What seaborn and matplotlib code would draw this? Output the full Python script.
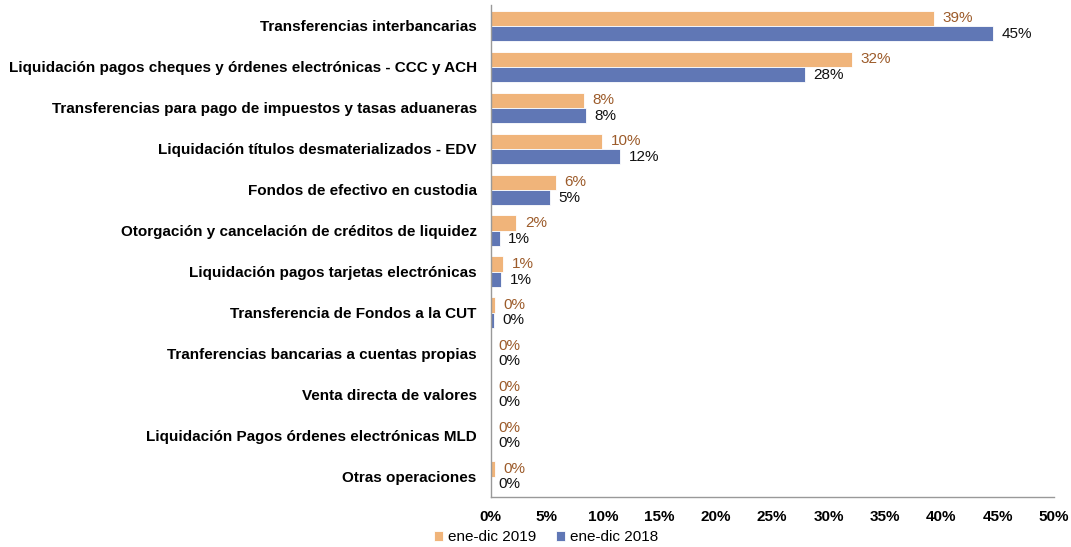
# Gráfico de barras horizontales: participación por tipo de operación
import pandas as pd
import seaborn as sns
import matplotlib.pyplot as plt
from matplotlib.ticker import PercentFormatter

categorias = [
    'Transferencias interbancarias',
    'Liquidación pagos cheques y órdenes electrónicas - CCC y ACH',
    'Transferencias para pago de impuestos y tasas aduaneras',
    'Liquidación títulos desmaterializados - EDV',
    'Fondos de efectivo en custodia',
    'Otorgación y cancelación de créditos de liquidez',
    'Liquidación pagos tarjetas electrónicas',
    'Transferencia de Fondos a la CUT',
    'Tranferencias bancarias a cuentas propias',
    'Venta directa de valores',
    'Liquidación Pagos órdenes electrónicas MLD',
    'Otras operaciones',
]
valores_2019 = [39.4, 32.1, 8.3, 9.9, 5.8, 2.3, 1.15, 0.4, 0.0, 0.0, 0.0, 0.4]
valores_2018 = [44.6, 27.9, 8.5, 11.5, 5.3, 0.8, 0.95, 0.35, 0.0, 0.0, 0.0, 0.0]
series = ['ene-dic 2019', 'ene-dic 2018']

df = pd.DataFrame({
    'categoria': categorias * 2,
    'valor': valores_2019 + valores_2018,
    'serie': [series[0]] * len(categorias) + [series[1]] * len(categorias),
})

sns.set_style('white')
plt.rcParams['font.family'] = ['Liberation Sans', 'DejaVu Sans']
plt.rcParams['text.color'] = '#000000'
plt.rcParams['xtick.color'] = '#000000'
plt.rcParams['ytick.color'] = '#000000'

fig, ax = plt.subplots(figsize=(10.71, 5.47), dpi=100)
colores = {'ene-dic 2019': '#F0B47A', 'ene-dic 2018': '#6077B5'}
sns.barplot(data=df, y='categoria', x='valor', hue='serie', palette=colores,
            saturation=1, orient='h', width=0.75, edgecolor='white',
            linewidth=0.6, ax=ax)

# Etiquetas de datos
color_etiqueta = {'ene-dic 2019': '#9C5B2A', 'ene-dic 2018': '#111111'}
for cont, serie in zip(ax.containers, series):
    etiquetas = [f'{v:.0f}%' for v in cont.datavalues]
    ax.bar_label(cont, labels=etiquetas, padding=6, fontsize=11,
                 color=color_etiqueta[serie])

ax.set_xlim(0, 50)
ax.set_xticks(range(0, 51, 5))
ax.xaxis.set_major_formatter(PercentFormatter(decimals=0))
ax.set_xlabel('')
ax.set_ylabel('')
ax.tick_params(axis='both', length=0)
for lbl in ax.get_xticklabels():
    lbl.set_fontweight('bold')
    lbl.set_fontsize(11)
for lbl in ax.get_yticklabels():
    lbl.set_fontweight('bold')
    lbl.set_fontsize(11)
ax.tick_params(axis='x', pad=9)
ax.tick_params(axis='y', pad=10)

for s in ['top', 'right']:
    ax.spines[s].set_visible(False)
for s in ['left', 'bottom']:
    ax.spines[s].set_color('#999999')
    ax.spines[s].set_linewidth(1)

ax.get_legend().remove()
handles, labels = ax.get_legend_handles_labels()
fig.legend(handles, labels, loc='center', bbox_to_anchor=(0.51, 0.018), ncol=2,
           frameon=False, fontsize=11, handlelength=0.6, handleheight=0.6,
           handletextpad=0.3, columnspacing=1.3, borderpad=0)

plt.subplots_adjust(left=0.458, right=0.984, top=0.99, bottom=0.091)
plt.savefig('out.png')
